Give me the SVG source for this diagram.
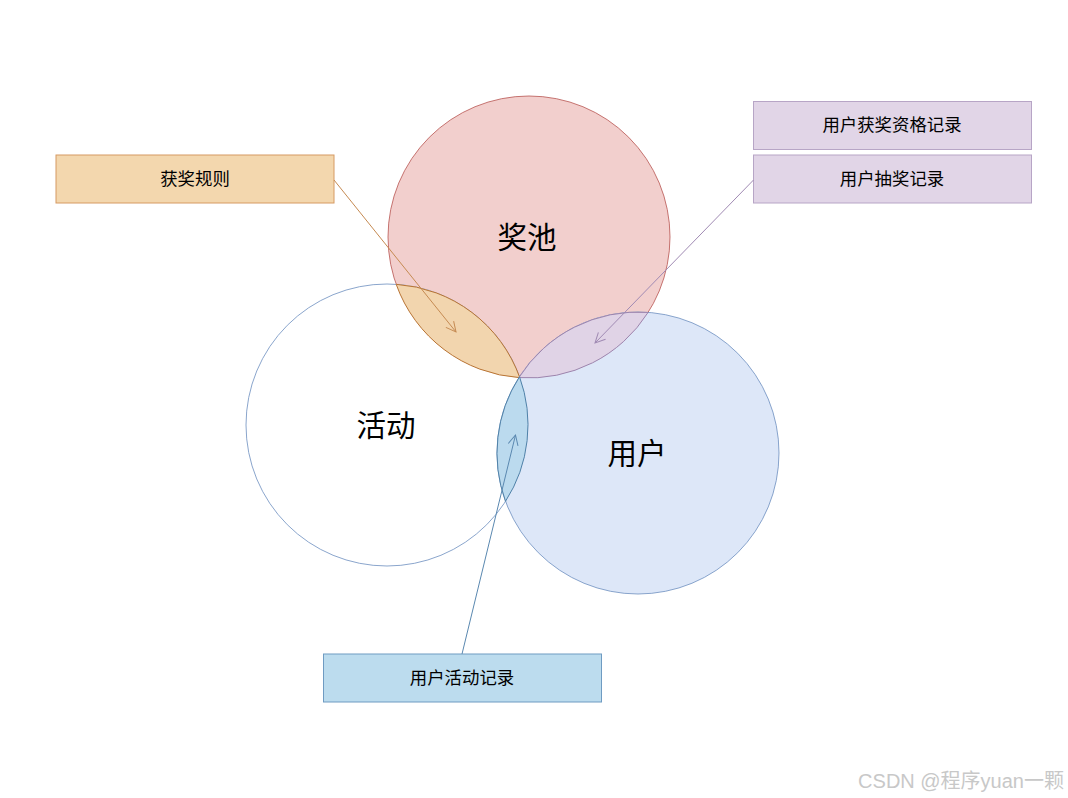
<svg xmlns="http://www.w3.org/2000/svg" width="1068" height="798" viewBox="0 0 1068 798">
<style>
.lbl{font-family:"Noto Sans CJK SC","Liberation Sans",sans-serif;fill:#000;text-anchor:middle;dominant-baseline:central}
.box{font-size:17.4px}
.big{font-size:29.5px}
.wm{font-family:"Liberation Sans","Noto Sans CJK SC",sans-serif;font-size:20px;fill:#c8c8c8;text-anchor:end}
.conn{fill:none;stroke-width:1}
</style>
<defs>
<marker id="arrO" markerWidth="14" markerHeight="14" refX="10" refY="5" orient="auto" markerUnits="userSpaceOnUse" viewBox="-1 -1 14 12"><path d="M0,0 L10,5 L0,10" fill="none" stroke="#c58a52" stroke-width="1"/></marker>
<marker id="arrP" markerWidth="14" markerHeight="14" refX="10" refY="5" orient="auto" markerUnits="userSpaceOnUse" viewBox="-1 -1 14 12"><path d="M0,0 L10,5 L0,10" fill="none" stroke="#a08ab3" stroke-width="1"/></marker>
<marker id="arrB" markerWidth="14" markerHeight="14" refX="10" refY="5" orient="auto" markerUnits="userSpaceOnUse" viewBox="-1 -1 14 12"><path d="M0,0 L10,5 L0,10" fill="none" stroke="#5a88b0" stroke-width="1"/></marker>
</defs>
<rect width="1068" height="798" fill="#ffffff"/>
<g id="pool">
<circle cx="529" cy="237" r="141" fill="#f2cfcd" stroke="#b85450" stroke-width="0.8"/>
</g>
<g id="activity">
<circle cx="387" cy="425" r="141" fill="#ffffff" stroke="#6c8ebf" stroke-width="0.8"/>
</g>
<g id="user">
<circle cx="638" cy="453" r="141" fill="#dde7f8" stroke="#6c8ebf" stroke-width="0.8"/>
</g>
<g id="lens-rule">
<path d="M396.2,284.3 A141,141 0 0 0 519.8,377.7 A141,141 0 0 0 396.2,284.3 Z" fill="#f2d5ae" stroke="#b87333" stroke-width="1"/>
</g>
<g id="lens-draw">
<path d="M518.9,377.6 A141,141 0 0 1 648.1,312.4 A141,141 0 0 1 518.9,377.6 Z" fill="#e0d3e6" stroke="#9d84ad" stroke-width="1"/>
</g>
<g id="lens-act">
<path d="M519.5,376.7 A141,141 0 0 1 505.5,501.3 A141,141 0 0 1 519.5,376.7 Z" fill="#bbdaee" stroke="#4f81a8" stroke-width="1"/>
</g>
<g id="circle-labels">
<text class="lbl big" x="527" y="235">奖池</text>
<text class="lbl big" x="386" y="423">活动</text>
<text class="lbl big" x="637" y="451">用户</text>
</g>
<g id="rule-box">
<rect x="56" y="155" width="278" height="48" fill="#f3d7ae" stroke="#d69a63" stroke-width="1"/>
<text class="lbl box" x="195" y="177">获奖规则</text>
</g>
<g id="qualify-box">
<rect x="753.5" y="101.5" width="278" height="48" fill="#e1d5e7" stroke="#b7a5c6" stroke-width="1"/>
<text class="lbl box" x="892" y="123.5">用户获奖资格记录</text>
</g>
<g id="draw-box">
<rect x="753.5" y="155" width="278" height="48" fill="#e1d5e7" stroke="#b7a5c6" stroke-width="1"/>
<text class="lbl box" x="892" y="177">用户抽奖记录</text>
</g>
<g id="act-box">
<rect x="323.5" y="654" width="278" height="48" fill="#bcdcee" stroke="#6f9bc2" stroke-width="1"/>
<text class="lbl box" x="462" y="676">用户活动记录</text>
</g>
<g id="connectors">
<line class="conn" x1="334" y1="180" x2="456" y2="332" stroke="#c58a52" marker-end="url(#arrO)"/>
<line class="conn" x1="753.5" y1="180" x2="595" y2="343" stroke="#a08ab3" marker-end="url(#arrP)"/>
<line class="conn" x1="462" y1="654" x2="515.5" y2="435" stroke="#5a88b0" marker-end="url(#arrB)"/>
</g>
<text class="wm" x="1064" y="788">CSDN @程序yuan一颗</text>
</svg>
